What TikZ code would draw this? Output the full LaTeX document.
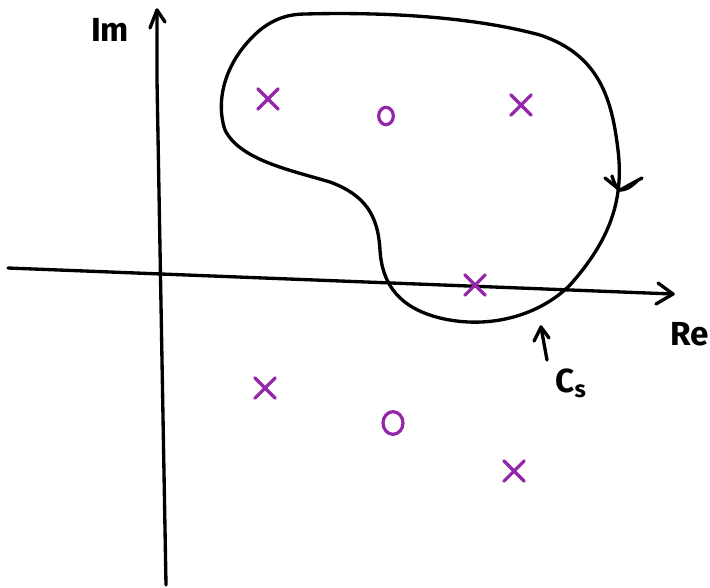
\documentclass[tikz,border=0pt]{standalone}
\usepackage{fontspec}
\setsansfont{Fira Sans}
\usetikzlibrary{shapes.misc,shapes.geometric}
\begin{document}
\begin{tikzpicture}[x=0.75pt,y=-0.75pt,
  pen/.style={line width=2.5pt,line cap=round,line join=round},
  purp/.style={draw=pole,line width=2.4pt,line cap=round},
  lbl/.style={font=\sffamily\bfseries\fontsize{25}{25}\selectfont,inner sep=0pt},
  xmark/.style={purp,cross out,minimum size=13pt,inner sep=0pt},
  omark/.style={purp,ellipse,minimum width=11pt,minimum height=13pt,inner sep=0pt}]
\definecolor{pole}{RGB}{148,38,170}
\useasboundingbox (0,0) rectangle (710,587);
% axes
\coordinate (reS) at (8,268);
\coordinate (reE) at (673,294);
\coordinate (imS) at (166,585);
\coordinate (imE) at (157,10);
\draw[pen] (reS) -- (reE);
\draw[pen] (imS) -- (157,80) -- (imE);
\draw[pen] (658,283) -- (reE) -- (656,304);
\draw[pen] (150,28) -- (imE) -- (165,22);
% labels
\node[lbl] (im) at (110,30) {Im};
\node[lbl] (re) at (690,334) {Re};
\node[lbl] (cs) at (571,383) {C\textsubscript{s}};
% contour
\draw[pen] (305,14) .. controls (380,12) and (470,16) .. (540,35)
  .. controls (600,55) and (612,100) .. (618,150)
  .. controls (624,200) and (610,240) .. (570,285)
  .. controls (540,315) and (490,330) .. (440,318)
  .. controls (400,308) and (382,285) .. (380,250)
  .. controls (378,215) and (365,195) .. (330,182)
  .. controls (290,170) and (240,160) .. (225,130)
  .. controls (215,100) and (225,60) .. (260,30)
  .. controls (275,18) and (290,14) .. (305,14);
% contour arrow
\coordinate (ca) at (620,190);
\draw[pen] (605,178) -- (ca) -- (642,178);
\draw[pen] (612,176) .. controls (615,186) and (618,190) .. (ca);
\draw[pen] (638,180) .. controls (630,188) and (625,190) .. (ca);
% Cs arrow
\coordinate (csa) at (541,327);
\coordinate (csb) at (547,360);
\draw[pen] (csb) -- (csa);
\draw[pen] (534,341) -- (csa) -- (549,338);
% poles and zeros
\node[xmark] (p1) at (268,99) {};
\node[xmark] (p2) at (521,105) {};
\node[xmark] (p3) at (475,285) {};
\node[xmark] (p4) at (265,388) {};
\node[xmark] (p5) at (514,471) {};
\node[omark] (z1) at (386,116) {};
\node[omark,minimum width=15pt,minimum height=17pt] (z2) at (393,423) {};
\end{tikzpicture}
\end{document}
